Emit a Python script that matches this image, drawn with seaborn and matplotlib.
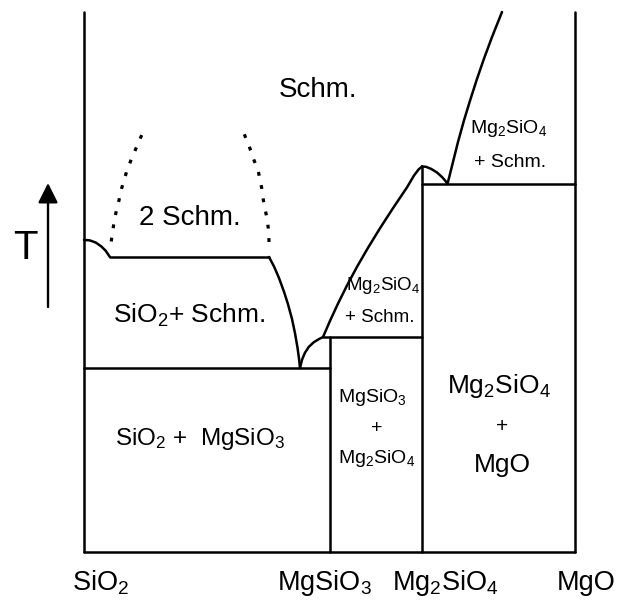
import numpy as np
import pandas as pd
import matplotlib
matplotlib.use("Agg")
import matplotlib.pyplot as plt
import seaborn as sns

# ---------------- data (composition: 0 = SiO2, 1 = MgO; T relative) ----------------
comp_labels = ["SiO$_2$", "MgSiO$_3$", "Mg$_2$SiO$_4$", "MgO"]
x_mgsio3 = 0.501
x_mg2sio4 = 0.688

T_mono = 0.546      # monotectic (2 melts)
T_eut1 = 0.341      # SiO2 - MgSiO3 eutectic
T_peri = 0.398      # MgSiO3 incongruent melting
T_eut2 = 0.6815     # Mg2SiO4 - MgO eutectic
T_mg2sio4 = 0.714   # Mg2SiO4 melting point

liq_sio2_x = [0.0, 0.012, 0.024, 0.035, 0.044, 0.053]
liq_sio2_T = [0.578, 0.577, 0.573, 0.566, 0.558, 0.546]

liq_mono_x = [0.3768, 0.3870, 0.3971, 0.4073, 0.4155, 0.4236, 0.4297, 0.4348, 0.4379, 0.4399]
liq_mono_T = [0.5463, 0.5287, 0.5074, 0.4820, 0.4587, 0.4315, 0.4052, 0.3785, 0.3581, 0.3407]

liq_enst_x = [0.4399, 0.4440, 0.4500, 0.4580, 0.4680, 0.4780, 0.4868]
liq_enst_T = [0.3407, 0.3560, 0.3690, 0.3800, 0.3885, 0.3940, 0.3981]

liq_fo_left_x = [0.4868, 0.5010, 0.5173, 0.5356, 0.5560, 0.5784, 0.6029, 0.6293,
                 0.6578, 0.6721, 0.6813, 0.6884]
liq_fo_left_T = [0.3981, 0.4280, 0.4600, 0.4935, 0.5281, 0.5633, 0.5996, 0.6367,
                 0.6752, 0.6972, 0.7083, 0.7139]

liq_fo_right_x = [0.6884, 0.6965, 0.7067, 0.7189, 0.7291, 0.7363, 0.7403]
liq_fo_right_T = [0.7139, 0.7133, 0.7096, 0.7028, 0.6944, 0.6870, 0.6815]

liq_mgo_x = [0.7403, 0.7515, 0.7617, 0.7739, 0.7862, 0.8004, 0.8147, 0.8310, 0.8513]
liq_mgo_T = [0.6815, 0.7222, 0.7593, 0.7993, 0.8359, 0.8761, 0.9137, 0.9537, 1.0]

gap_left_x = [0.1175, 0.1073, 0.0971, 0.0870, 0.0768, 0.0699, 0.0631, 0.0597, 0.0544]
gap_left_T = [0.772, 0.7506, 0.729, 0.705, 0.674, 0.646, 0.621, 0.602, 0.569]
gap_right_x = [0.3265, 0.3367, 0.3448, 0.3550, 0.3619, 0.3666, 0.3721, 0.3754, 0.3774]
gap_right_T = [0.7735, 0.7506, 0.729, 0.705, 0.674, 0.643, 0.621, 0.599, 0.565]

# ---------------- build tables ----------------
solid_segments = {
    "left_axis": ([0.0, 0.0], [0.0, 1.0]),
    "right_axis": ([1.0, 1.0], [0.0, 1.0]),
    "bottom": ([0.0, 1.0], [0.0, 0.0]),
    "eut1": ([0.0, x_mgsio3], [T_eut1, T_eut1]),
    "peri": ([liq_enst_x[-1], x_mg2sio4], [T_peri, T_peri]),
    "eut2": ([x_mg2sio4, 1.0], [T_eut2, T_eut2]),
    "mono": ([liq_sio2_x[-1], liq_mono_x[0]], [T_mono, T_mono]),
    "v_en": ([x_mgsio3, x_mgsio3], [0.0, T_peri]),
    "v_fo": ([x_mg2sio4, x_mg2sio4], [0.0, T_mg2sio4]),
    "liq_sio2": (liq_sio2_x, liq_sio2_T),
    "liq_mono": (liq_mono_x, liq_mono_T),
    "liq_enst": (liq_enst_x, liq_enst_T),
    "liq_fo_l": (liq_fo_left_x, liq_fo_left_T),
    "liq_fo_r": (liq_fo_right_x, liq_fo_right_T),
    "liq_mgo": (liq_mgo_x, liq_mgo_T),
}
dashed_segments = {
    "gap_l": (gap_left_x, gap_left_T),
    "gap_r": (gap_right_x, gap_right_T),
}


def to_df(segs):
    rows = []
    for name, (xs, ts) in segs.items():
        for i, (x, t) in enumerate(zip(xs, ts)):
            rows.append({"seg": name, "order": i, "x": x, "T": t})
    return pd.DataFrame(rows)


df_solid = to_df(solid_segments)
df_dash = to_df(dashed_segments)

# ---------------- style ----------------
sns.set_theme(style="white")
plt.rcParams["font.family"] = ["Liberation Sans", "DejaVu Sans"]
plt.rcParams["mathtext.fontset"] = "custom"
plt.rcParams["mathtext.rm"] = "Liberation Sans"
plt.rcParams["mathtext.it"] = "Liberation Sans:italic"
plt.rcParams["mathtext.bf"] = "Liberation Sans:bold"
plt.rcParams["mathtext.default"] = "rm"

fig = plt.figure(figsize=(6.27, 6.0), dpi=100)
ax = fig.add_axes([0, 0, 1, 1])

sns.lineplot(data=df_solid, x="x", y="T", units="seg", estimator=None, sort=False,
             color="black", lw=1.8, ax=ax, legend=False)
for ln in ax.lines:
    ln.set_solid_joinstyle("round")
    ln.set_solid_capstyle("round")
sns.lineplot(data=df_dash, x="x", y="T", units="seg", estimator=None, sort=False,
             color="black", lw=2.3, ax=ax, legend=False)
for ln in ax.lines[-2:]:
    ln.set_linestyle((0, (1.2, 3.0)))

ax.set_xlim(-0.1711, 1.1059)
ax.set_ylim(-0.0889, 1.0222)
ax.axis("off")

# ---------------- labels ----------------
k = dict(color="black")
ax.text(0.4766, 0.8556, "Schm.", fontsize=20, ha="center", va="center", **k)
ax.text(0.2159, 0.6185, "2 Schm.", fontsize=20, ha="center", va="center", **k)
ax.text(0.0591, 0.4241, "SiO$_2$+ Schm.", fontsize=19, ha="left", va="baseline", **k)
ax.text(0.0631, 0.1981, "SiO$_2$ +  MgSiO$_3$", fontsize=17.5, ha="left", va="baseline", **k)

ax.text(0.6100, 0.4852, "Mg$_2$SiO$_4$", fontsize=13.5, ha="center", va="baseline", **k)
ax.text(0.6018, 0.4259, "+ Schm.", fontsize=13.5, ha="center", va="baseline", **k)
ax.text(0.8656, 0.7759, "Mg$_2$SiO$_4$", fontsize=14, ha="center", va="baseline", **k)
ax.text(0.8686, 0.7130, "+ Schm.", fontsize=14, ha="center", va="baseline", **k)

ax.text(0.5876, 0.2778, "MgSiO$_3$", fontsize=14, ha="center", va="baseline", **k)
ax.text(0.5967, 0.2296, "+", fontsize=14, ha="center", va="center", **k)
ax.text(0.5957, 0.1648, "Mg$_2$SiO$_4$", fontsize=14, ha="center", va="baseline", **k)

ax.text(0.8442, 0.2944, "Mg$_2$SiO$_4$", fontsize=19, ha="center", va="baseline", **k)
ax.text(0.8513, 0.2315, "+", fontsize=15, ha="center", va="center", **k)
ax.text(0.8523, 0.1481, "MgO", fontsize=19, ha="center", va="baseline", **k)

label_x = [-0.0244, 0.3931, 0.6273, 0.9633]
for lx, lab in zip(label_x, comp_labels):
    ax.text(lx, -0.0704, lab, fontsize=19.5, ha="left", va="baseline", **k)

ax.text(-0.1202, 0.5630, "T", fontsize=29, ha="center", va="center", **k)
ax.annotate("", xy=(-0.0733, 0.6833), xytext=(-0.0733, 0.4537),
            arrowprops=dict(arrowstyle="-|>,head_length=0.8,head_width=0.4",
                            mutation_scale=15, color="black", lw=1.7,
                            shrinkA=0, shrinkB=0))

fig.savefig("out.png", dpi=100, facecolor="white")
